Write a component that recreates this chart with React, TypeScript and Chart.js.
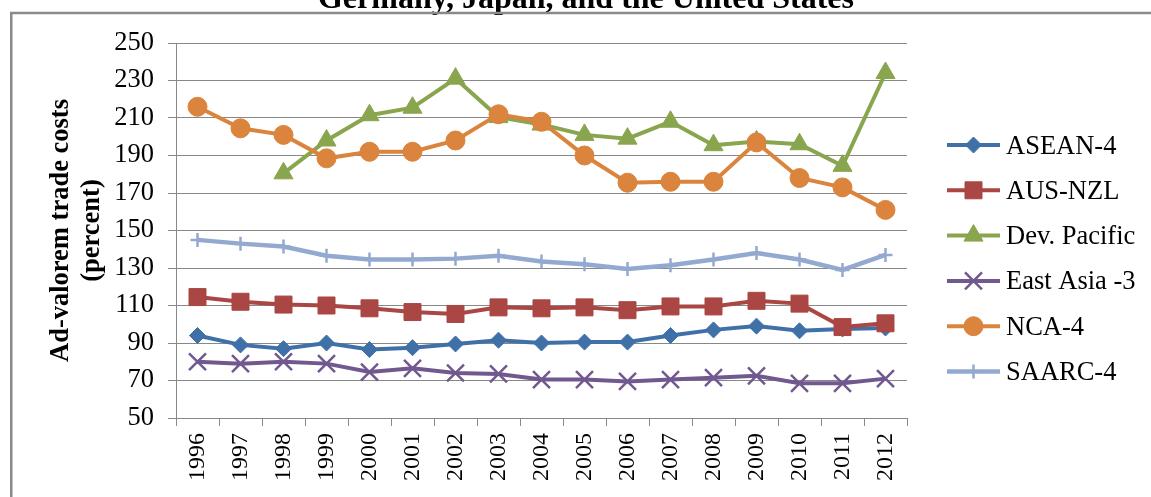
import React, { useEffect, useRef } from 'react';
import { Chart, registerables } from 'chart.js';
import { drawPoint } from 'chart.js/helpers';

Chart.register(...registerables);

const TITLE = 'Germany, Japan, and the United States';
const yAxisTitle = ['Ad-valorem trade costs', '(percent)'];

const years = ['1996', '1997', '1998', '1999', '2000', '2001', '2002', '2003', '2004', '2005', '2006', '2007', '2008', '2009', '2010', '2011', '2012'];

const asean4 = [94, 89, 87, 90, 86.5, 87.5, 89.5, 91.5, 90, 90.5, 90.5, 94, 97, 99, 96.5, 97.5, 98];
const ausNzl = [114.5, 112, 110.5, 110, 108.5, 106.5, 105.5, 109, 108.5, 109, 107.5, 109.5, 109.5, 112.5, 111, 98.5, 100.5];
const devPacific = [null, null, 180.5, 198, 211.5, 215.5, 231, 210.5, 206.5, 201, 199, 208, 195.5, 197.5, 196, 184.5, 234];
const eastAsia3 = [80, 79, 80, 79, 74.5, 76.5, 74, 73.5, 70.5, 70.5, 69.5, 70.5, 71.5, 72.5, 68.5, 68.5, 71];
const nca4 = [216, 204.5, 201, 188.5, 192, 192, 198, 212, 208, 190, 175.5, 176, 176, 197, 178, 173, 161];
const saarc4 = [145, 143, 141.5, 136.5, 134.5, 134.5, 135, 136.5, 133.5, 132, 129.5, 131.5, 134.5, 138, 134.5, 129, 137];

const seriesNames = ['ASEAN-4', 'AUS-NZL', 'Dev. Pacific', 'East Asia -3', 'NCA-4', 'SAARC-4'];
const seriesValues = [asean4, ausNzl, devPacific, eastAsia3, nca4, saarc4];

const yMin = 50;
const yMax = 250;
const yStep = 20;

const styles = [
  { color: '#4070A8', pointStyle: 'rectRot', radius: 8, borderWidth: 1, lineWidth: 4 },
  { color: '#AA4643', pointStyle: 'rect', radius: 12, borderWidth: 1, lineWidth: 4 },
  { color: '#89A54E', pointStyle: 'triangle', radius: 11, borderWidth: 1, lineWidth: 4 },
  { color: '#71588F', pointStyle: 'crossRot', radius: 12, borderWidth: 2.5, lineWidth: 4 },
  { color: '#DB843D', pointStyle: 'circle', radius: 9.5, borderWidth: 1, lineWidth: 4 },
  { color: '#93A9CF', pointStyle: 'cross', radius: 7, borderWidth: 2.5, lineWidth: 4.5 },
];

const FONT = '"Liberation Serif", "Times New Roman", serif';
const GRID = '#888888';

const decorPlugin = {
  id: 'decor',
  beforeDraw(chart: any) {
    const ctx = chart.ctx;
    const w = chart.width;
    const h = chart.height;
    ctx.save();
    ctx.fillStyle = '#ffffff';
    ctx.fillRect(0, 0, w, h);
    ctx.fillStyle = '#000000';
    ctx.font = `bold 32px ${FONT}`;
    ctx.textAlign = 'center';
    ctx.textBaseline = 'alphabetic';
    ctx.fillText(TITLE, 586, 7.5);
    ctx.strokeStyle = '#8a8a8a';
    ctx.lineWidth = 2.5;
    ctx.beginPath();
    ctx.moveTo(11.25, h + 5);
    ctx.lineTo(11.25, 13);
    ctx.lineTo(w + 5, 13);
    ctx.stroke();
    ctx.restore();
  },
  afterDraw(chart: any) {
    const ctx = chart.ctx;
    const x0 = chart.chartArea.right + 40;
    const x1 = x0 + 53;
    ctx.save();
    seriesNames.forEach((name, i) => {
      const st = styles[i];
      const y = 145 + i * 45.3;
      ctx.strokeStyle = st.color;
      ctx.lineWidth = st.lineWidth;
      ctx.lineCap = 'butt';
      ctx.beginPath();
      ctx.moveTo(x0, y);
      ctx.lineTo(x1, y);
      ctx.stroke();
      ctx.fillStyle = st.color;
      ctx.strokeStyle = st.color;
      ctx.lineWidth = st.borderWidth;
      drawPoint(ctx, { pointStyle: st.pointStyle as any, radius: st.radius, borderWidth: st.borderWidth, rotation: 0 }, (x0 + x1) / 2, y);
      ctx.fillStyle = '#000000';
      ctx.font = `26.5px ${FONT}`;
      ctx.textAlign = 'left';
      ctx.textBaseline = 'alphabetic';
      ctx.fillText(name, x1 + 6, y + 8.5);
    });
    ctx.restore();
  },
};

export default function App() {
  const ref = useRef<HTMLCanvasElement | null>(null);

  useEffect(() => {
    if (!ref.current) return;
    const datasets = seriesNames.map((name, i) => {
      const st = styles[i];
      return {
        label: name,
        data: seriesValues[i],
        borderColor: st.color,
        backgroundColor: st.color,
        borderWidth: st.lineWidth,
        pointStyle: st.pointStyle,
        pointRadius: st.radius,
        pointHoverRadius: st.radius,
        pointBackgroundColor: st.color,
        pointBorderColor: st.color,
        pointBorderWidth: st.borderWidth,
        tension: 0,
        spanGaps: false,
        order: -i,
      };
    });

    const chart = new Chart(ref.current, {
      type: 'line',
      data: { labels: years, datasets: datasets as any },
      options: {
        animation: false,
        responsive: false,
        devicePixelRatio: 1,
        events: [],
        layout: { padding: { left: 0, top: 43, right: 244, bottom: 0 } },
        plugins: {
          legend: { display: false },
          title: { display: false },
          tooltip: { enabled: false },
        },
        scales: {
          x: {
            type: 'category',
            offset: true,
            afterFit: (scale: any) => {
              scale.height = 79;
            },
            grid: {
              display: true,
              drawOnChartArea: false,
              drawTicks: true,
              tickLength: 8,
              offset: true,
              color: GRID,
              lineWidth: 1,
            },
            border: { display: true, color: GRID, width: 1 },
            ticks: {
              autoSkip: false,
              maxRotation: 90,
              minRotation: 90,
              padding: 7,
              color: '#000000',
              font: { family: FONT, size: 24 },
            },
          },
          y: {
            type: 'linear',
            min: yMin,
            max: yMax,
            afterFit: (scale: any) => {
              scale.width = 176;
            },
            grid: {
              color: GRID,
              lineWidth: 1,
              drawTicks: true,
              tickLength: 8,
            },
            border: { display: true, color: GRID, width: 1 },
            ticks: {
              stepSize: yStep,
              padding: 14,
              color: '#000000',
              font: { family: FONT, size: 26.5 },
            },
            title: {
              display: true,
              text: yAxisTitle,
              color: '#000000',
              font: { family: FONT, size: 26.5, weight: 'bold', lineHeight: 1.17 },
              padding: { top: 45.5, bottom: 0 },
            },
          },
        },
      },
      plugins: [decorPlugin],
    });
    return () => chart.destroy();
  }, []);

  return (
    <div style={{ position: 'absolute', left: 0, top: 0, width: 1151, height: 497, overflow: 'hidden', background: '#fff' }}>
      <canvas ref={ref} width={1151} height={497} style={{ display: 'block', width: 1151, height: 497 }} />
    </div>
  );
}
